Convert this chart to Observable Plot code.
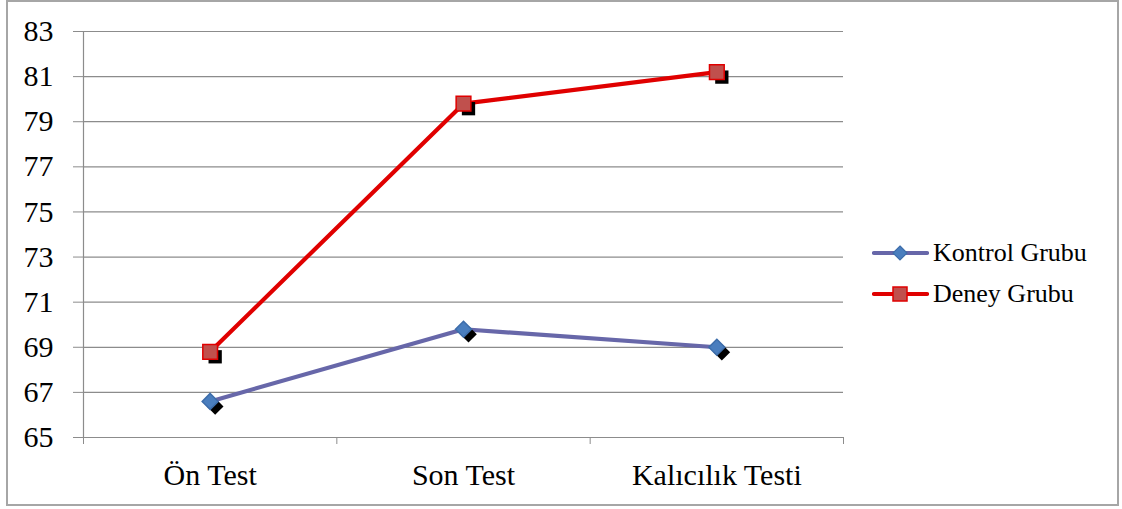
<!DOCTYPE html>
<html>
<head>
<meta charset="utf-8">
<script src="https://cdn.jsdelivr.net/npm/d3@7"></script>
<script src="https://cdn.jsdelivr.net/npm/@observablehq/plot@0.6"></script>
<style>
  html, body { margin: 0; padding: 0; background: #fff; }
  #wrap { position: relative; width: 1122px; height: 509px; overflow: hidden; font-family: "Liberation Serif", "Times New Roman", serif; }
  #frame { position: absolute; left: 6px; top: 0px; width: 1113px; height: 506px; border: 2px solid #a6a6a6; box-sizing: border-box; pointer-events: none; }
  #chart { position: absolute; left: 0; top: 0; }
  .legend { position: absolute; left: 872px; display: flex; align-items: center; font-size: 26px; color: #000; white-space: nowrap; }
  .legend svg { display: block; margin-right: 4px; }
</style>
</head>
<body>
<div id="wrap">
  <div id="chart"></div>
  <div id="frame"></div>
</div>
<script>
// ---- data ----
const categories = ["Ön Test", "Son Test", "Kalıcılık Testi"];
const seriesNames = ["Kontrol Grubu", "Deney Grubu"];
const kontrolValues = [66.6, 69.8, 69.0];
const deneyValues = [68.8, 79.8, 81.2];
const yTicks = [65, 67, 69, 71, 73, 75, 77, 79, 81, 83];

// ---- styles ----
const lineColors = ["#6767A9", "#E00000"];
const markerFills = ["#4A7EBE", "#C0504D"];
const markerStrokes = ["#3D6DAA", "#E00000"];
const symbols = ["diamond2", "square"];
const gridColor = "#8c8c8c";

const rows = [];
[kontrolValues, deneyValues].forEach((vals, s) => {
  vals.forEach((v, i) => rows.push({i, cat: categories[i], value: v, series: seriesNames[s]}));
});
const boundaries = categories.map((_, i) => i - 0.5).concat([categories.length - 0.5]);
const centers = categories.map((_, i) => i);

const markerMarks = seriesNames.map((name, s) =>
  Plot.dot(rows.filter(d => d.series === name), {
    x: "i", y: "value", symbol: () => symbols[s], r: s === 0 ? 7.2 : 8.3,
    fill: markerFills[s], stroke: markerStrokes[s], strokeWidth: 1.5
  })
);

const chart = Plot.plot({
  width: 1122,
  height: 509,
  marginLeft: 83,
  marginRight: 279,
  marginTop: 31,
  marginBottom: 72,
  style: { fontFamily: "'Liberation Serif', 'Times New Roman', serif", background: "transparent", color: "#000" },
  x: { type: "linear", domain: [-0.5, categories.length - 0.5], axis: null },
  y: { domain: [65, 83], axis: null },
  color: { domain: seriesNames, range: lineColors },
  symbol: { domain: seriesNames, range: symbols },
  marks: [
    Plot.gridY(yTicks, { stroke: gridColor, strokeOpacity: 1, strokeWidth: 1.2 }),
    Plot.ruleX([boundaries[0]], { stroke: gridColor, strokeWidth: 1.2 }),
    Plot.axisY({ ticks: yTicks, label: null, tickSize: 10, tickPadding: 20, fontSize: 30, stroke: gridColor, fill: "#000", tickFormat: d => String(d) }),
    Plot.axisX({ ticks: boundaries, label: null, tickSize: 7, tickFormat: () => "", stroke: gridColor }),
    Plot.axisX({ ticks: centers, label: null, tickSize: 0, tickPadding: 26, fontSize: 30, fill: "#000", tickFormat: i => categories[i] }),
    Plot.line(rows, { x: "i", y: "value", z: "series", stroke: "series", strokeWidth: 4.2, strokeLinecap: "round", strokeLinejoin: "round" }),
    Plot.dot(rows, { x: "i", y: "value", symbol: "series", r: 7.5, fill: "#000", dx: 5, dy: 5 }),
    ...markerMarks
  ]
});
document.getElementById("chart").appendChild(chart);

// ---- legend ----
const legendTops = [253, 294];
seriesNames.forEach((name, s) => {
  const item = document.createElement("div");
  item.className = "legend";
  item.style.top = (legendTops[s] - 16) + "px";
  item.style.height = "32px";
  const sym = s === 0
    ? `<path d="M28,9 L35,16 L28,23 L21,16 Z" fill="${markerFills[s]}" stroke="${markerStrokes[s]}" stroke-width="1.2"/>`
    : `<rect x="21" y="9" width="14" height="14" fill="${markerFills[s]}" stroke="${markerStrokes[s]}" stroke-width="1.5"/>`;
  item.innerHTML = `<svg width="57" height="32"><line x1="2" y1="16" x2="55" y2="16" stroke="${lineColors[s]}" stroke-width="4.2" stroke-linecap="round"/>${sym}</svg><span>${name}</span>`;
  document.getElementById("wrap").appendChild(item);
});
</script>
</body>
</html>
